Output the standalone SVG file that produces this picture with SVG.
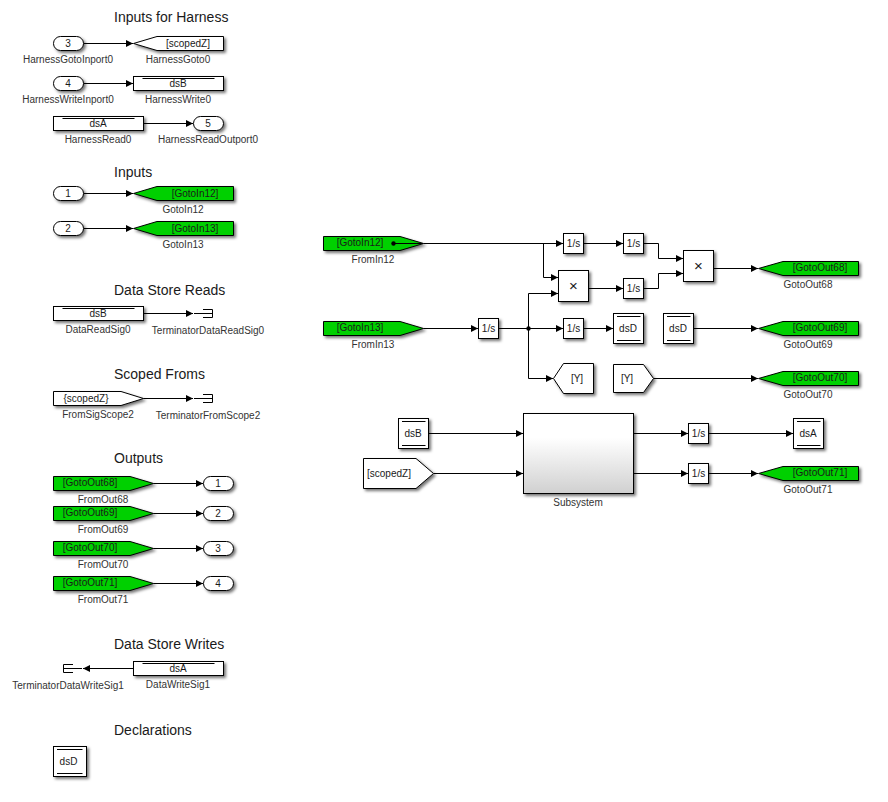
<svg xmlns="http://www.w3.org/2000/svg" width="888" height="802" viewBox="0 0 888 802">
<style>
text{font-family:"Liberation Sans",Arial,sans-serif;font-size:10px;fill:#1a1a1a;text-anchor:middle}
.t{font-size:14px;text-anchor:start}
.l{fill:#333}
.x{font-size:15px}
.b{fill:#fff;stroke:#000;stroke-width:1;filter:url(#s)}
.g{fill:#00d000;stroke:#000;stroke-width:1;filter:url(#s)}
.n{fill:none;stroke:#000;stroke-width:1}
.c path{fill:none;stroke:#000;stroke-width:1;marker-end:url(#a)}
</style>
<defs>
<filter id="s" x="-20%" y="-30%" width="150%" height="180%"><feDropShadow dx="2" dy="2" stdDeviation="1.4" flood-color="#000" flood-opacity=".55"/></filter>
<marker id="a" markerUnits="userSpaceOnUse" markerWidth="8" markerHeight="8" refX="7" refY="4" orient="auto"><path d="M0 .6L7 4L0 7.400Z" fill="#000"/></marker>
<linearGradient id="sub" x1="0" y1="0" x2="0" y2="1"><stop offset=".3" stop-color="#fff"/><stop offset="1" stop-color="#d0d0d0"/></linearGradient>
</defs>
<rect width="888" height="802" fill="#fff"/>
<g id="titles">
<text class="t" x="114" y="22">Inputs for Harness</text>
<text class="t" x="114" y="177">Inputs</text>
<text class="t" x="114" y="295">Data Store Reads</text>
<text class="t" x="114" y="379">Scoped Froms</text>
<text class="t" x="114" y="463">Outputs</text>
<text class="t" x="114" y="649">Data Store Writes</text>
<text class="t" x="114" y="735">Declarations</text>
</g>
<g id="connectors" class="c">
<path d="M83.500 43.500H133"/>
<path d="M83.500 83.500H133"/>
<path d="M143.500 123.500H193"/>
<path d="M83.500 193.500H133"/>
<path d="M83.500 228.500H133"/>
<path d="M143.500 313.500H193"/>
<path d="M143.500 398.500H193"/>
<path d="M153.500 483.500H203"/>
<path d="M153.500 513.500H203"/>
<path d="M153.500 548.500H203"/>
<path d="M153.500 583.500H203"/>
<path d="M133 668.500H83"/>
<path d="M423.500 243.500H563"/>
<path d="M543.500 243.500V277.500H558"/>
<path d="M423.500 328.500H478"/>
<path d="M498.500 328.500H563"/>
<path d="M528.500 328.500V293.500H558"/>
<path d="M528.500 328.500V378.500H553"/>
<path d="M583.500 243.500H623"/>
<path d="M588.500 288.500H623"/>
<path d="M583.500 328.500H613"/>
<path d="M643.500 243.500H658.500V258.500H683"/>
<path d="M643.500 288.500H658.500V273.500H683"/>
<path d="M713.500 268.500H758"/>
<path d="M693.500 328.500H758"/>
<path d="M653.500 378.500H758"/>
<path d="M428.500 433.500H523"/>
<path d="M433.500 473.500H523"/>
<path d="M633.500 433.500H688"/>
<path d="M633.500 473.500H688"/>
<path d="M708.500 433.500H793"/>
<path d="M708.500 473.500H758"/>
<circle cx="528.500" cy="328.500" r="2.200" fill="#000"/>
</g>
<g id="HarnessGotoInport0"><rect class="b" x="53.500" y="36.500" width="30" height="14" rx="7"/><text x="68" y="47">3</text><text class="l" x="68" y="63">HarnessGotoInport0</text></g>
<g id="HarnessGoto0"><path class="b" d="M133.500 43.500L157 36.500H223.500V50.500H157Z"/><text x="188" y="46.500">[scopedZ]</text><text class="l" x="178" y="63">HarnessGoto0</text></g>
<g id="HarnessWriteInport0"><rect class="b" x="53.500" y="76.500" width="30" height="14" rx="7"/><text x="68" y="87">4</text><text class="l" x="68" y="103">HarnessWriteInport0</text></g>
<g id="HarnessWrite0"><rect class="b" x="133.500" y="76.500" width="90" height="14"/><path class="n" d="M142.500 78.500H214.500"/><text x="178" y="87">dsB</text><text class="l" x="178" y="103">HarnessWrite0</text></g>
<g id="HarnessRead0"><rect class="b" x="53.500" y="116.500" width="90" height="14"/><path class="n" d="M62.500 118.500H134.500"/><text x="98" y="127">dsA</text><text class="l" x="98" y="143">HarnessRead0</text></g>
<g id="HarnessReadOutport0"><rect class="b" x="193.500" y="116.500" width="30" height="14" rx="7"/><text x="208" y="127">5</text><text class="l" x="208" y="143">HarnessReadOutport0</text></g>
<g id="Inport1"><rect class="b" x="53.500" y="186.500" width="30" height="14" rx="7"/><text x="68" y="197">1</text></g>
<g id="GotoIn12"><path class="g" d="M133.500 193.500L157 186.500H233.500V200.500H157Z"/><text x="195" y="196.500">[GotoIn12]</text><text class="l" x="183" y="213">GotoIn12</text></g>
<g id="Inport2"><rect class="b" x="53.500" y="221.500" width="30" height="14" rx="7"/><text x="68" y="232">2</text></g>
<g id="GotoIn13"><path class="g" d="M133.500 228.500L157 221.500H233.500V235.500H157Z"/><text x="195" y="231.500">[GotoIn13]</text><text class="l" x="183" y="248">GotoIn13</text></g>
<g id="DataReadSig0"><rect class="b" x="53.500" y="306.500" width="90" height="14"/><path class="n" d="M62.500 308.500H134.500"/><text x="98" y="317">dsB</text><text class="l" x="98" y="333">DataReadSig0</text></g>
<g id="TerminatorDataReadSig0"><path class="n" d="M194 313.500H212.500M203 309.500H212.500V317.500H203"/><text class="l" x="208" y="334">TerminatorDataReadSig0</text></g>
<g id="FromSigScope2"><path class="b" d="M53.500 391.500H121L143.500 398.500L121 405.500H53.500Z"/><text x="86" y="401.500">{scopedZ}</text><text class="l" x="98" y="418">FromSigScope2</text></g>
<g id="TerminatorFromScope2"><path class="n" d="M194 398.500H212.500M203 394.500H212.500V402.500H203"/><text class="l" x="208" y="419">TerminatorFromScope2</text></g>
<g id="FromOut68"><path class="g" d="M53.500 476.500H130L153.500 483.500L130 490.500H53.500Z"/><text x="90" y="486">[GotoOut68]</text><text class="l" x="103" y="503">FromOut68</text></g>
<g id="FromOut69"><path class="g" d="M53.500 506.500H130L153.500 513.500L130 520.500H53.500Z"/><text x="90" y="516">[GotoOut69]</text><text class="l" x="103" y="533">FromOut69</text></g>
<g id="FromOut70"><path class="g" d="M53.500 541.500H130L153.500 548.500L130 555.500H53.500Z"/><text x="90" y="551">[GotoOut70]</text><text class="l" x="103" y="568">FromOut70</text></g>
<g id="FromOut71"><path class="g" d="M53.500 576.500H130L153.500 583.500L130 590.500H53.500Z"/><text x="90" y="586">[GotoOut71]</text><text class="l" x="103" y="603">FromOut71</text></g>
<g id="Outport1"><rect class="b" x="203.500" y="476.500" width="30" height="14" rx="7"/><text x="218" y="487">1</text></g>
<g id="Outport2"><rect class="b" x="203.500" y="506.500" width="30" height="14" rx="7"/><text x="218" y="517">2</text></g>
<g id="Outport3"><rect class="b" x="203.500" y="541.500" width="30" height="14" rx="7"/><text x="218" y="552">3</text></g>
<g id="Outport4"><rect class="b" x="203.500" y="576.500" width="30" height="14" rx="7"/><text x="218" y="587">4</text></g>
<g id="TerminatorDataWriteSig1"><path class="n" d="M82 668.500H63.500M73 664.500H63.500V672.500H73"/><text class="l" x="68" y="689">TerminatorDataWriteSig1</text></g>
<g id="DataWriteSig1"><rect class="b" x="133.500" y="661.500" width="90" height="14"/><path class="n" d="M142.500 663.500H214.500"/><text x="178" y="672">dsA</text><text class="l" x="178" y="688">DataWriteSig1</text></g>
<g id="dsDDecl"><rect class="b" x="53.500" y="746.500" width="33" height="30"/><path class="n" d="M57 749.500H82.500M57 773.500H82.500"/><text x="68.500" y="765">dsD</text></g>
<g id="FromIn12"><path class="g" d="M323.500 236.500H400L423.500 243.500L400 250.500H323.500Z"/><path class="n" d="M393.500 243.500H423"/><circle cx="393.500" cy="243.500" r="2.200" fill="#000"/><text x="360" y="246">[GotoIn12]</text><text class="l" x="373" y="263">FromIn12</text></g>
<g id="FromIn13"><path class="g" d="M323.500 321.500H400L423.500 328.500L400 335.500H323.500Z"/><text x="360" y="331">[GotoIn13]</text><text class="l" x="373" y="348">FromIn13</text></g>
<g id="Int1"><rect class="b" x="563.500" y="233.500" width="20" height="20"/><text x="573.500" y="247">1/s</text></g>
<g id="Int2"><rect class="b" x="623.500" y="233.500" width="20" height="20"/><text x="633.500" y="247">1/s</text></g>
<g id="Prod1"><rect class="b" x="558.500" y="270.500" width="30" height="31"/><text class="x" x="573.500" y="291">×</text></g>
<g id="Int3"><rect class="b" x="623.500" y="278.500" width="20" height="20"/><text x="633.500" y="292">1/s</text></g>
<g id="Prod2"><rect class="b" x="683.500" y="250.500" width="30" height="31"/><text class="x" x="698.500" y="271">×</text></g>
<g id="GotoOut68"><path class="g" d="M758.500 268.500L783 261.500H858.500V275.500H783Z"/><text x="820" y="271">[GotoOut68]</text><text class="l" x="808" y="288">GotoOut68</text></g>
<g id="Int4"><rect class="b" x="478.500" y="318.500" width="20" height="20"/><text x="488.500" y="332">1/s</text></g>
<g id="Int5"><rect class="b" x="563.500" y="318.500" width="20" height="20"/><text x="573.500" y="332">1/s</text></g>
<g id="dsDWrite"><rect class="b" x="613.500" y="313.500" width="30" height="30"/><path class="n" d="M617 316.500H640.500M617 340.500H640.500"/><text x="628" y="332">dsD</text></g>
<g id="dsDRead"><rect class="b" x="663.500" y="313.500" width="30" height="30"/><path class="n" d="M667 316.500H690.500M667 340.500H690.500"/><text x="678" y="332">dsD</text></g>
<g id="GotoOut69"><path class="g" d="M758.500 328.500L783 321.500H858.500V335.500H783Z"/><text x="820" y="331">[GotoOut69]</text><text class="l" x="808" y="348">GotoOut69</text></g>
<g id="GotoY"><path class="b" d="M553.500 378.500L563.500 363.500H593.500V393.500H563.500Z"/><text x="577" y="382">[Y]</text></g>
<g id="FromY"><path class="b" d="M613.500 364.500H643.500L653.500 378.500L643.500 392.500H613.500Z"/><text x="627" y="382">[Y]</text></g>
<g id="GotoOut70"><path class="g" d="M758.500 378.500L783 371.500H858.500V385.500H783Z"/><text x="820" y="381">[GotoOut70]</text><text class="l" x="808" y="398">GotoOut70</text></g>
<g id="dsBRead"><rect class="b" x="398.500" y="418.500" width="30" height="30"/><path class="n" d="M402 421.500H425.500M402 445.500H425.500"/><text x="413" y="437">dsB</text></g>
<g id="FromScopedZ"><path class="b" d="M363.500 458.500H416L433.500 473.500L416 488.500H363.500Z"/><text x="389" y="477">[scopedZ]</text></g>
<g id="Subsystem"><rect x="523.500" y="413.500" width="110" height="80" fill="url(#sub)" stroke="#000" filter="url(#s)"/><text class="l" x="578" y="506">Subsystem</text></g>
<g id="Int6"><rect class="b" x="688.500" y="423.500" width="20" height="20"/><text x="698.500" y="437">1/s</text></g>
<g id="Int7"><rect class="b" x="688.500" y="463.500" width="20" height="20"/><text x="698.500" y="477">1/s</text></g>
<g id="dsAWrite"><rect class="b" x="793.500" y="418.500" width="30" height="30"/><path class="n" d="M797 421.500H820.500M797 445.500H820.500"/><text x="808" y="437">dsA</text></g>
<g id="GotoOut71"><path class="g" d="M758.500 473.500L783 466.500H858.500V480.500H783Z"/><text x="820" y="476">[GotoOut71]</text><text class="l" x="808" y="493">GotoOut71</text></g>
</svg>
